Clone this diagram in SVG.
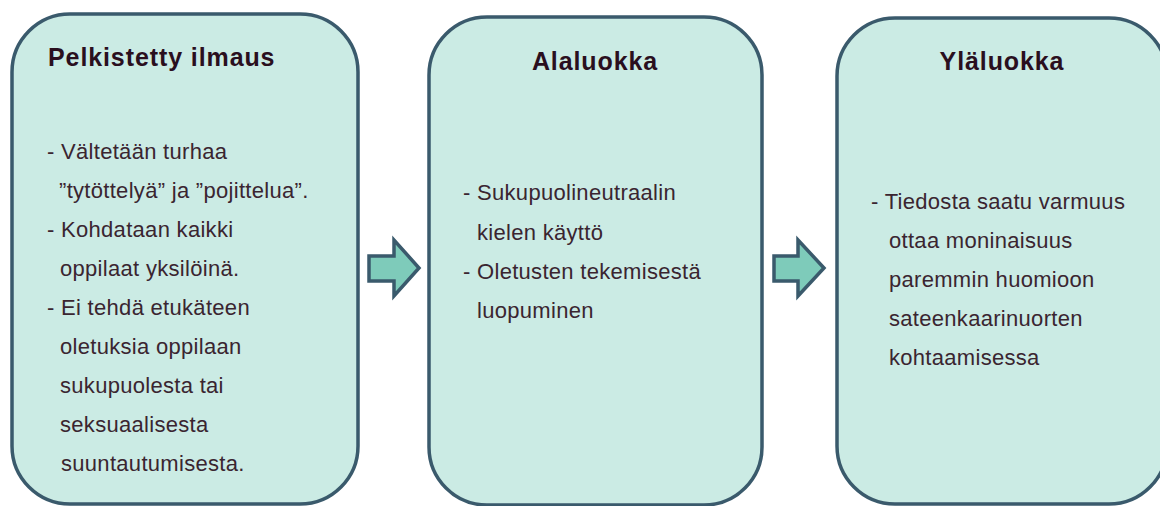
<svg xmlns="http://www.w3.org/2000/svg" width="1160" height="506" viewBox="0 0 1160 506">
<style>
.box{fill:#CBEBE4;stroke:#3A5A6C;stroke-width:3.5}
.arrow{fill:#7ECBBA;stroke:#3A5A6C;stroke-width:3.5;stroke-linejoin:miter}
.title{font-family:"Liberation Sans",Arial,sans-serif;font-weight:bold;font-size:25px;letter-spacing:0.9px;fill:#2A0F1E}
.body{font-family:"Liberation Sans",Arial,sans-serif;font-size:22px;letter-spacing:0.3px;fill:#3A2530}
</style>
<rect width="1160" height="506" fill="#ffffff"/>
<g id="node-pelkistetty">
<rect class="box" x="12" y="14" width="346" height="490" rx="58" ry="58"/>
<text class="title" x="48" y="66">Pelkistetty ilmaus</text>
<text class="body" x="47" y="159">- Vältetään turhaa</text>
<text class="body" x="59" y="198">”tytöttelyä” ja ”pojittelua”.</text>
<text class="body" x="47" y="237">- Kohdataan kaikki</text>
<text class="body" x="60" y="276">oppilaat yksilöinä.</text>
<text class="body" x="47" y="315">- Ei tehdä etukäteen</text>
<text class="body" x="60" y="354">oletuksia oppilaan</text>
<text class="body" x="60" y="393">sukupuolesta tai</text>
<text class="body" x="60" y="432">seksuaalisesta</text>
<text class="body" x="61" y="471">suuntautumisesta.</text>
</g>
<g id="node-alaluokka">
<rect class="box" x="429" y="17" width="333" height="488" rx="58" ry="58"/>
<text class="title" x="595" y="70" text-anchor="middle">Alaluokka</text>
<text class="body" x="463" y="200">- Sukupuolineutraalin</text>
<text class="body" x="477" y="240">kielen käyttö</text>
<text class="body" x="463" y="279">- Oletusten tekemisestä</text>
<text class="body" x="477" y="318">luopuminen</text>
</g>
<g id="node-ylaluokka">
<rect class="box" x="837" y="18" width="330" height="486" rx="58" ry="58"/>
<text class="title" x="1002" y="70" text-anchor="middle">Yläluokka</text>
<text class="body" x="871" y="209">- Tiedosta saatu varmuus</text>
<text class="body" x="889" y="248">ottaa moninaisuus</text>
<text class="body" x="889" y="287">paremmin huomioon</text>
<text class="body" x="889" y="326">sateenkaarinuorten</text>
<text class="body" x="889" y="365">kohtaamisessa</text>
</g>
<g id="connectors">
<path class="arrow" d="M369,256 L394,256 L394,240 L419,268 L394,296 L394,281 L369,281 Z"/>
<path class="arrow" d="M774,256 L798,256 L798,240 L824,268 L798,296 L798,281 L774,281 Z"/>
</g>
</svg>
